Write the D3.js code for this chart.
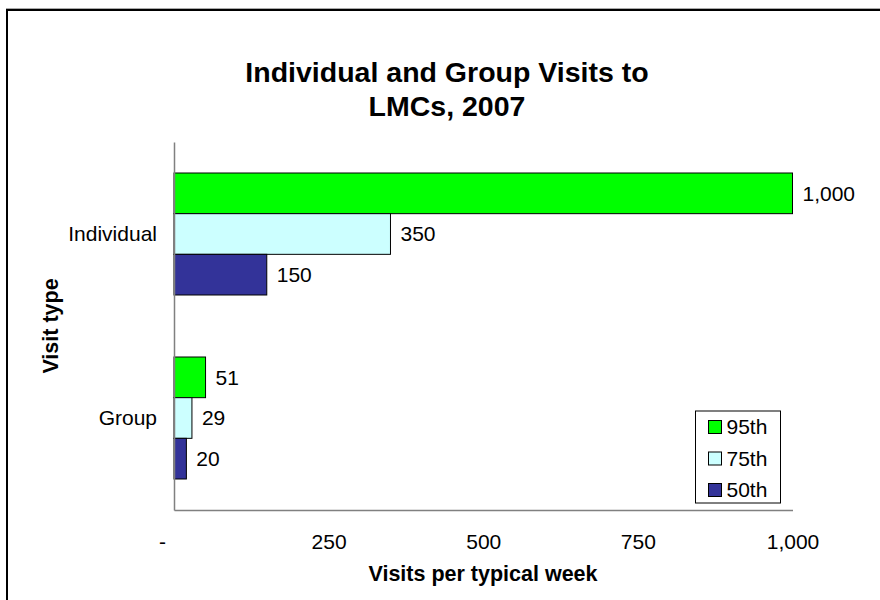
<!DOCTYPE html>
<html><head><meta charset="utf-8">
<script src="https://cdn.jsdelivr.net/npm/d3@7"></script>
<style>
html,body{margin:0;padding:0;background:#fff;}
svg{display:block;font-family:Arial,"Liberation Sans",sans-serif;}
</style></head>
<body>
<svg id="chart" width="880" height="600"></svg>
<script>
const categories = ["Individual", "Group"];
const seriesNames = ["95th", "75th", "50th"];
const seriesColors = ["#00FF00", "#CCFFFF", "#333399"];
const values95 = [1000, 51];
const values75 = [350, 29];
const values50 = [150, 20];
const xTicks = [0, 250, 500, 750, 1000];
const titleLines = ["Individual and Group Visits to", "LMCs, 2007"];
const xTitle = "Visits per typical week";
const yTitle = "Visit type";

const seriesValues = [values95, values75, values50];
const fmt = d3.format(",");
const FS = 21;

const svg = d3.select("#chart");

// outer frame
svg.append("line").attr("x1", 6).attr("x2", 880).attr("y1", 8.5).attr("y2", 8.5)
  .attr("stroke", "#aaa").attr("stroke-width", 1);
svg.append("rect").attr("x", 7).attr("y", 10).attr("width", 900).attr("height", 620)
  .attr("fill", "none").attr("stroke", "#000").attr("stroke-width", 2);

const pLeft = 174, pRight = 792.5, pTop = 142, pBottom = 510;

const x = d3.scaleLinear().domain([0, 1000]).range([pLeft, pRight]);
const pIn = 0.337;
const y0 = d3.scaleBand().domain(categories).range([pTop, pBottom])
  .paddingInner(pIn).paddingOuter(pIn / 2);
const y1 = d3.scaleBand().domain(seriesNames).range([0, y0.bandwidth()]);

// title
const title = svg.append("text").attr("text-anchor", "middle")
  .attr("font-weight", "bold").attr("font-size", 28.5).attr("fill", "#000");
titleLines.forEach((t, i) => {
  title.append("tspan").attr("x", 447).attr("y", 82 + i * 34).text(t);
});

// bars
const groups = svg.append("g").selectAll("g").data(categories).join("g")
  .attr("transform", c => `translate(0,${y0(c)})`);

groups.each(function(c, ci) {
  const g = d3.select(this);
  seriesNames.forEach((s, si) => {
    const v = seriesValues[si][ci];
    g.append("rect")
      .attr("x", x(0)).attr("y", y1(s))
      .attr("width", x(v) - x(0)).attr("height", y1.bandwidth())
      .attr("fill", seriesColors[si]).attr("stroke", "#000").attr("stroke-width", 1);
    g.append("text")
      .attr("x", x(v) + 10).attr("y", y1(s) + y1.bandwidth() / 2)
      .attr("dy", "0.35em").attr("font-size", FS).attr("fill", "#000")
      .text(fmt(v));
  });
});

// x axis
const xAxis = d3.axisBottom(x).tickValues(xTicks).tickSize(0).tickPadding(24)
  .tickFormat(d => d === 0 ? "-" : fmt(d));
const gx = svg.append("g").attr("transform", `translate(0,${pBottom})`).call(xAxis);
gx.select(".domain").attr("stroke", "#808080").attr("stroke-width", 1.5);
gx.selectAll(".tick text").attr("font-size", FS).attr("fill", "#000")
  .attr("font-family", "Arial, 'Liberation Sans', sans-serif")
  .attr("dx", d => d === 0 ? -12 : 0);

// y axis
const yAxis = d3.axisLeft(y0).tickSize(0).tickPadding(17);
const gy = svg.append("g").attr("transform", `translate(${pLeft},0)`).call(yAxis);
gy.select(".domain").attr("stroke", "#808080").attr("stroke-width", 1.5);
gy.selectAll(".tick text").attr("font-size", FS).attr("fill", "#000")
  .attr("font-family", "Arial, 'Liberation Sans', sans-serif");

// axis titles
svg.append("text").attr("x", 483).attr("y", 581).attr("text-anchor", "middle")
  .attr("font-weight", "bold").attr("font-size", 21.5).text(xTitle);
svg.append("text").attr("transform", `translate(58,${(pTop + pBottom) / 2}) rotate(-90)`)
  .attr("text-anchor", "middle").attr("font-weight", "bold").attr("font-size", 21.5).text(yTitle);

// legend
const lg = svg.append("g").attr("transform", "translate(695.5,411)");
lg.append("rect").attr("width", 85).attr("height", 92).attr("fill", "#fff")
  .attr("stroke", "#000").attr("stroke-width", 1);
seriesNames.forEach((s, i) => {
  const row = lg.append("g").attr("transform", `translate(0,${16 + i * 31.5})`);
  row.append("rect").attr("x", 13).attr("y", -6.5).attr("width", 13).attr("height", 13)
    .attr("fill", seriesColors[i]).attr("stroke", "#000").attr("stroke-width", 1);
  row.append("text").attr("x", 31).attr("y", 0).attr("dy", "0.35em")
    .attr("font-size", FS).attr("fill", "#000").text(s);
});
</script>
</body></html>
